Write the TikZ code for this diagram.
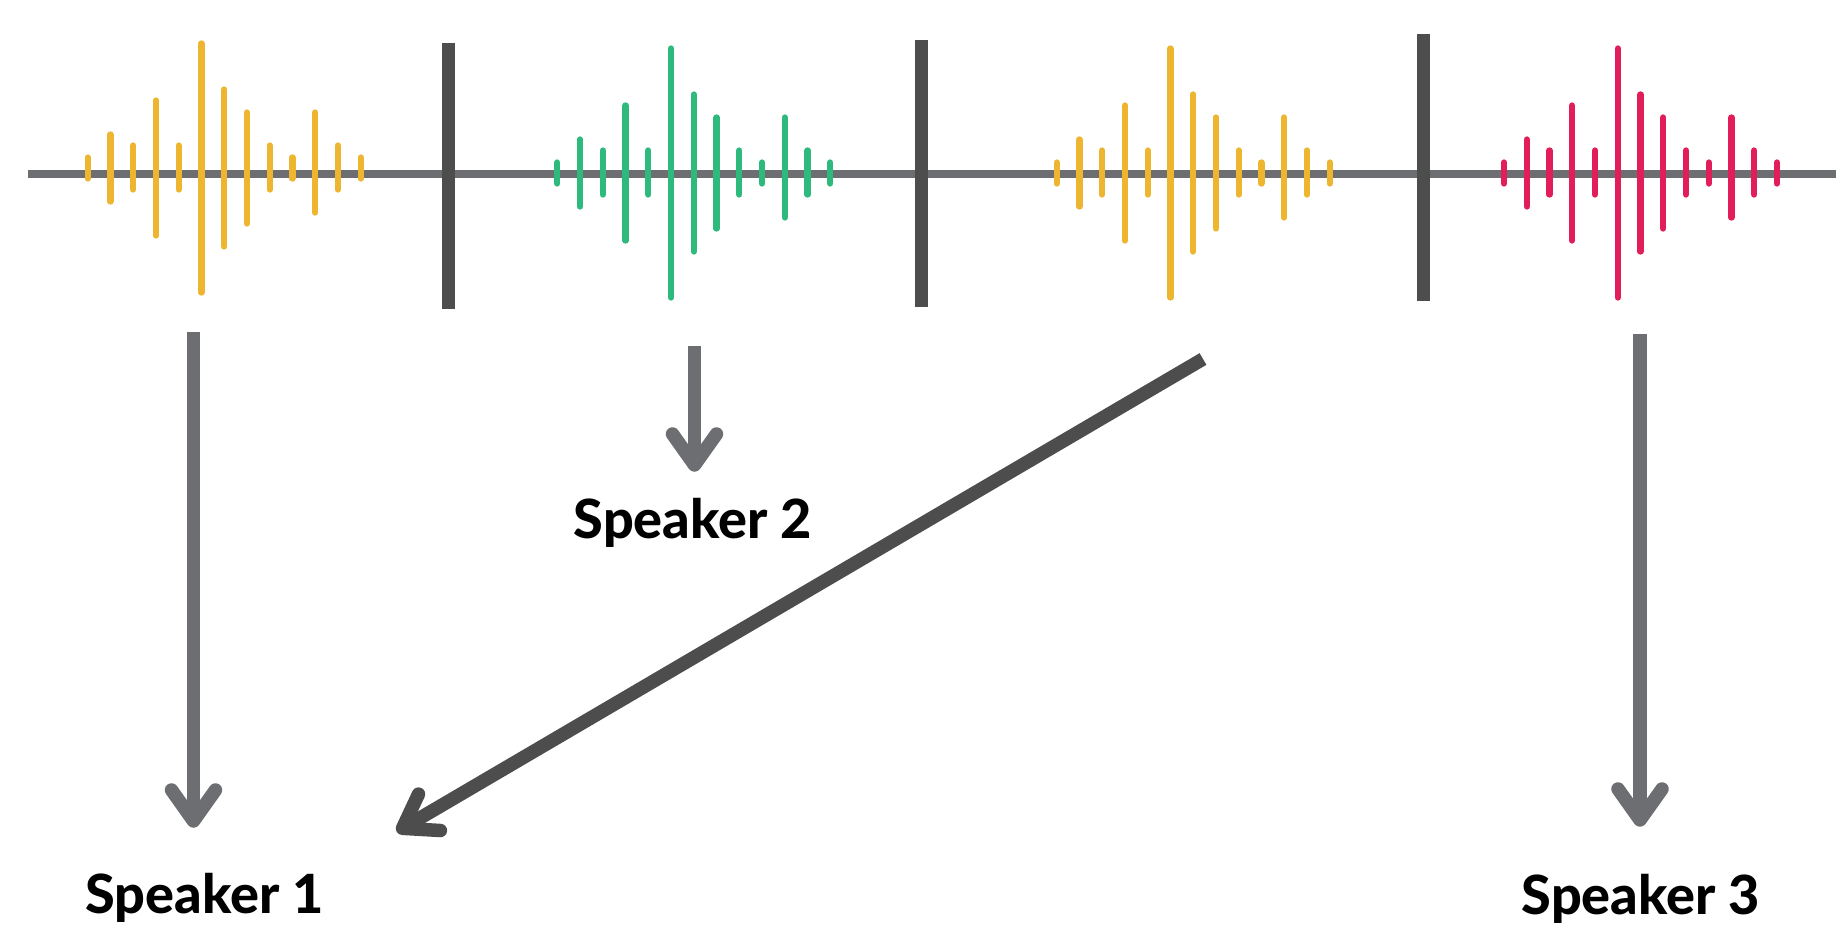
\documentclass[tikz,border=0pt]{standalone}
\usepackage{fontspec}
\IfFontExistsTF{Lato Heavy}{\setmainfont{Lato}[BoldFont={Lato Heavy}]}{\setmainfont{Lato}}
\usetikzlibrary{calc}
\definecolor{wyellow}{HTML}{EDB530}
\definecolor{wgreen}{HTML}{2EB97D}
\definecolor{wred}{HTML}{E11E5A}
\definecolor{lgray}{HTML}{6D6E71}
\definecolor{dgray}{HTML}{4D4D4D}
\newcommand{\wavebars}[3]{%
  \foreach \t/\b [count=\i from 0] in {11/10,34/33,23/21,68/67,23/21,125/124,79/78,56/55,23/21,11/10,56/44,23/21,11/10}
    \draw[wbar,#3] ({#1+\i*22.75},{#2-\t}) -- ({#1+\i*22.75},{#2+\b});
}
\begin{document}
\begin{tikzpicture}[x=1pt,y=-1pt,
  timeline/.style={draw=lgray,line width=7.5pt},
  wbar/.style={line width=6.3pt,line cap=round},
  sepbar/.style={draw=dgray,line width=13pt},
  arr/.style={draw=lgray,line width=13.5pt,line cap=round,line join=round},
  arrshaft/.style={draw=lgray,line width=13.5pt},
  darr/.style={draw=dgray,line width=13.5pt,line cap=round,line join=round},
  darrshaft/.style={draw=dgray,line width=13.5pt},
  lbl/.style={font=\fontsize{54}{60}\selectfont\bfseries,text=black,anchor=base,inner sep=0pt}]
\useasboundingbox[fill=white] (0,0) rectangle (1836,927);
% timeline
\coordinate (l0) at (28,174);
\coordinate (l1) at (1836,174);
\draw[timeline] (l0) -- (l1);
% waveforms
\wavebars{87.7}{168.5}{wyellow}
\wavebars{557.3}{173.5}{wgreen}
\wavebars{1056.7}{173.5}{wyellow}
\wavebars{1504}{173.5}{wred}
% separators
\draw[sepbar] (448.5,42.7) -- (448.5,309.3);
\draw[sepbar] (921.8,40) -- (921.8,306.7);
\draw[sepbar] (1423.7,34) -- (1423.7,300.7);
% labels
\node[lbl] (s1) at (204.5,913) {Speaker 1};
\node[lbl] (s2) at (693,538) {Speaker 2};
\node[lbl] (s3) at (1641,914) {Speaker 3};
% arrows
\coordinate (a1) at (193.5,332);
\coordinate (t1) at (193.5,821);
\coordinate (a2) at (694.5,346);
\coordinate (t2) at (694.5,465);
\coordinate (a4) at (1640,334);
\coordinate (t4) at (1640,820);
\coordinate (a3) at (1203,359);
\coordinate (t3) at (402.5,828.3);
\draw[arrshaft] (a1) -- (t1);
\draw[arr] ($(t1)+(-22,-31)$) -- (t1) -- ($(t1)+(22,-31)$);
\draw[arrshaft] (a2) -- (t2);
\draw[arr] ($(t2)+(-22,-31)$) -- (t2) -- ($(t2)+(22,-31)$);
\draw[arrshaft] (a4) -- (t4);
\draw[arr] ($(t4)+(-22,-31)$) -- (t4) -- ($(t4)+(22,-31)$);
\draw[darrshaft] (a3) -- (t3);
\draw[darr] ($(t3)+(16,-34.2)$) -- (t3) -- ($(t3)+(37.9,2.2)$);
\end{tikzpicture}
\end{document}
